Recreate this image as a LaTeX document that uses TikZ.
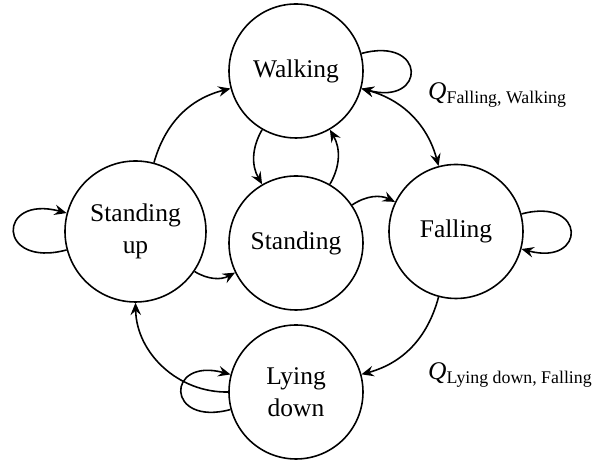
\documentclass[tikz,border=0pt]{standalone}
\usepackage{fontspec}
\setmainfont{Liberation Serif}
\usetikzlibrary{arrows.meta}

\begin{document}
\begin{tikzpicture}[>={Stealth[length=7pt,width=6pt,inset=2.5pt]},
  statenode/.style={draw,circle,fill=white,line width=0.9pt,minimum size=2.68cm,
    inner sep=0pt,align=center,font=\fontsize{14.5}{18}\selectfont},
  trans/.style={line width=0.9pt,->},
  selfloop/.style={min distance=1.35cm,max distance=1.35cm}]

  \useasboundingbox (-5.92,-4.65) rectangle (6.26,4.63);

  \draw (90:3.21) node[statenode] (w) {Walking};
\draw (180:3.21) node[statenode,minimum size=2.82cm] (u) {Standing\\up};
\draw (0,-0.23) node[statenode] (s) {Standing};
\draw (0:3.2) node[statenode] (f) {Falling};
\draw (270:3.21) node[statenode] (l) {Lying\\down};

  \draw[trans] (w) to[out=15,in=-15,selfloop] (w);
  \draw[trans] (f) to[out=15,in=-15,selfloop] (f);
  \draw[trans] (u) to[out=195,in=165,selfloop,min distance=1.45cm,max distance=1.45cm] (u);
  \draw[trans] (l) to[out=195,in=165,selfloop] (l);

  \draw[trans,<->] (w) to[bend left=30] (f);
  \draw[trans] (f) to[bend left=30] (l);
  \draw[trans] (l) to[bend left=45] (u);
  \draw[trans] (u) to[bend left=30] (w);
  \draw[trans] (w) to[bend right=30] (s);
  \draw[trans] (s) to[bend right=30] (w);
  \draw[trans] (u) to[bend right=30] (s);
  \draw[trans] (s) to[bend left=30] (f);

  \draw (2.52,2.63) node[anchor=base west,font=\fontsize{14.5}{18}\selectfont] (qfw)
    {\textit{Q}\textsubscript{Falling, Walking}};
  \draw (2.52,-2.97) node[anchor=base west,font=\fontsize{14.5}{18}\selectfont] (qlf)
    {\textit{Q}\textsubscript{Lying down, Falling}};

\end{tikzpicture}
\end{document}
